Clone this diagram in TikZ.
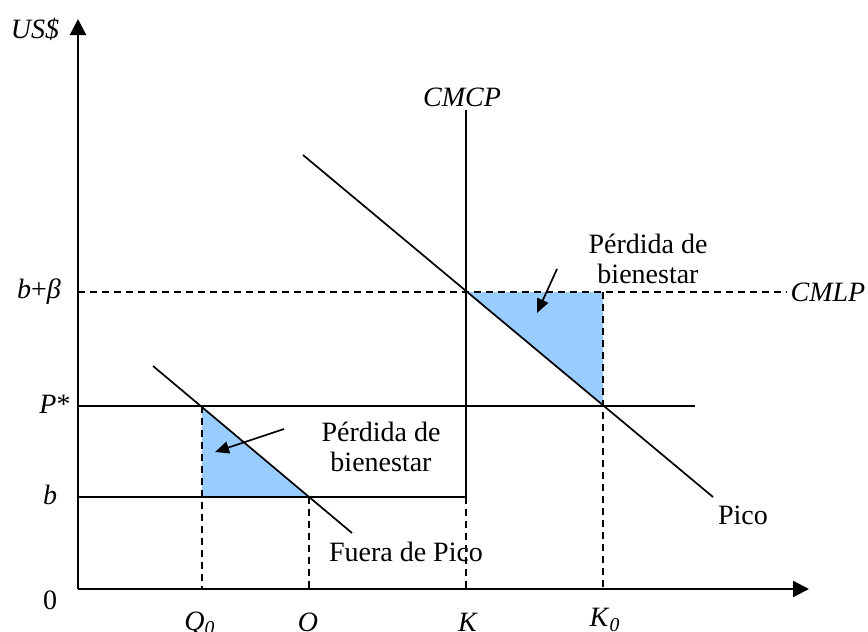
\documentclass[tikz,border=0pt]{standalone}
\usepackage{fontspec}
\setmainfont{Liberation Serif}
\usetikzlibrary{arrows.meta}
\definecolor{lossblue}{RGB}{153,204,255}
\begin{document}
\begin{tikzpicture}[x=0.5pt, y=-0.5pt, font=\fontsize{14}{15}\selectfont,
    curve/.style={line width=0.85pt},
    guide/.style={line width=0.85pt, dash pattern=on 3.5pt off 2.5pt},
    axis/.style={line width=1.1pt, -{Triangle[length=8pt,width=8pt]}},
    pointer/.style={line width=0.85pt, -{Triangle[length=7pt,width=6pt]}}]
        \useasboundingbox (0,0) rectangle (868,632);

        % Key points
        \coordinate (origin) at (78,589);
        \coordinate (ytip) at (78,19);
        \coordinate (xtip) at (809,589);
        \coordinate (kb) at (466,497);
        \coordinate (kcm) at (466,292);
        \coordinate (k0cm) at (603,292);
        \coordinate (k0p) at (603,406);
        \coordinate (q0p) at (202,406);
        \coordinate (q0b) at (202,497);
        \coordinate (ob) at (309,497);

        % Welfare loss areas in light blue
        \fill[lossblue] (kcm) -- (k0cm) -- (k0p) -- cycle;
        \fill[lossblue] (q0p) -- (q0b) -- (ob) -- cycle;

        % Draw axes
        \draw[axis] (origin) -- (ytip);
        \draw[axis] (origin) -- (xtip);

        % Price levels
        \coordinate (pstar0) at (78,406);
        \coordinate (pstar1) at (695,406);
        \coordinate (b0) at (78,497);
        \coordinate (cmlp0) at (78,292);
        \coordinate (cmlp1) at (787,292);
        \draw[curve] (pstar0) -- (pstar1);
        \draw[curve] (b0) -- (kb);
        \draw[guide] (cmlp0) -- (cmlp1);

        % Short run capacity cost
        \coordinate (cmcptop) at (466,110);
        \draw[curve] (cmcptop) -- (kb);

        % Demand curves, peak and off-peak
        \coordinate (pico0) at (303,155);
        \coordinate (pico1) at (713,497);
        \coordinate (fuera0) at (153,366);
        \coordinate (fuera1) at (352,533);
        \draw[curve] (pico0) -- (pico1);
        \draw[curve] (fuera0) -- (fuera1);

        % Dashed guides down to the quantity axis
        \foreach \top/\xx in {q0p/202, ob/309, kb/466, k0cm/603}
          \draw[guide] (\top) -- (\xx,589);

        % Axis labels
        \node (usd) at (35,29) {\textit{US\$}};
        \node (zero) at (50,600) {0};
        \node (lbeta) at (39,292) {\textit{b}+\textit{β}};
        \node (lpstar) at (55,404) {\textit{P}*};
        \node (lb) at (50,495) {\textit{b}};
        \node (lq0) at (200,623) {\textit{Q}\textsubscript{\textit{0}}};
        \node (lo) at (308,622) {\textit{O}};
        \node (lk) at (468,622) {\textit{K}};
        \node (lk0) at (605,620) {\textit{K}\textsubscript{\textit{0}}};

        % Curve labels
        \node (lcmcp) at (462,97) {\textit{CMCP}};
        \node (lcmlp) at (828,292) {\textit{CMLP}};
        \node (lpico) at (743,515) {Pico};
        \node (lfuera) at (406,552) {Fuera de Pico};

        % Welfare loss notes with arrows
        \node[align=center] (lossup) at (648,259) {Pérdida de\\bienestar};
        \node[align=center] (losslow) at (381,447) {Pérdida de\\bienestar};
        \coordinate (upfrom) at (557,269);
        \coordinate (upto) at (537,313);
        \coordinate (lowfrom) at (284,429);
        \coordinate (lowto) at (215,452);
        \draw[pointer] (upfrom) -- (upto);
        \draw[pointer] (lowfrom) -- (lowto);
      \end{tikzpicture}
\end{document}
